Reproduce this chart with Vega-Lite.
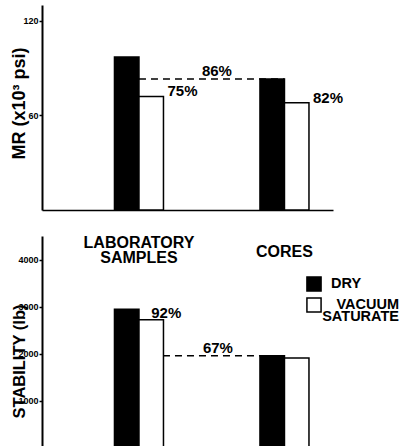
{
  "$schema": "https://vega.github.io/schema/vega-lite/v6.json",
  "padding": {"left": 10, "top": 5, "right": 0, "bottom": 0},
  "spacing": 23,
  "background": "white",
  "config": {
    "view": {"stroke": null},
    "font": "Liberation Sans",
    "axis": {
      "grid": false,
      "domainColor": "black",
      "tickColor": "black",
      "labelColor": "black",
      "titleColor": "black",
      "labelFont": "Liberation Sans",
      "titleFont": "Liberation Sans"
    }
  },
  "resolve": {
    "scale": {"x": "independent", "y": "independent", "xOffset": "independent", "fill": "independent"},
    "legend": {"fill": "independent"}
  },
  "vconcat": [
    {
      "width": 291,
      "height": 205,
      "layer": [
        {
          "data": {"values": [{"from": "LABORATORY SAMPLES", "to": "CORES", "value": 83}]},
          "mark": {"type": "rule", "strokeDash": [7, 5], "strokeWidth": 1.5, "color": "black"},
          "encoding": {
            "x": {"field": "from", "type": "nominal", "scale": {"domain": ["LABORATORY SAMPLES", "CORES"], "paddingInner": 0.6632, "paddingOuter": 0.3316, "align": 0.751}, "axis": {"title": null, "labels": false, "ticks": false, "domain": true, "domainWidth": 1.5}},
            "x2": {"field": "to"},
            "y": {"field": "value", "type": "quantitative"}
          }
        },
        {
          "data": {"values": [
            {"group": "LABORATORY SAMPLES", "cond": "DRY", "value": 97},
            {"group": "LABORATORY SAMPLES", "cond": "VACUUM SATURATE", "value": 72},
            {"group": "CORES", "cond": "DRY", "value": 83},
            {"group": "CORES", "cond": "VACUUM SATURATE", "value": 68}
          ]},
          "mark": {"type": "bar", "stroke": "black", "strokeWidth": 1.5},
          "encoding": {
            "x": {"field": "group", "type": "nominal", "scale": {"domain": ["LABORATORY SAMPLES", "CORES"], "paddingInner": 0.6632, "paddingOuter": 0.3316, "align": 0.751}},
            "xOffset": {"field": "cond", "type": "nominal", "scale": {"domain": ["DRY", "VACUUM SATURATE"], "paddingInner": 0, "paddingOuter": 0}},
            "y": {"field": "value", "type": "quantitative", "scale": {"domain": [0, 130], "nice": false},
              "axis": {"values": [60, 120], "title": "MR (x10³ psi)", "titleFontSize": 18, "titleFontWeight": "bold", "titleX": -18, "titleY": 98, "titleBaseline": "alphabetic", "labelFontSize": 9, "labelFontWeight": "bold", "labelPadding": 1, "tickSize": 3, "tickWidth": 1.5, "domainWidth": 2}},
            "fill": {"field": "cond", "type": "nominal", "scale": {"domain": ["DRY", "VACUUM SATURATE"], "range": ["#000000", "#ffffff"]}, "legend": null}
          }
        },
        {
          "data": {"values": [
            {"group": "LABORATORY SAMPLES", "value": 72, "label": "75%"},
            {"group": "CORES", "value": 68, "label": "82%"}
          ]},
          "mark": {"type": "text", "align": "left", "baseline": "alphabetic", "dx": 4, "fontSize": 15, "fontWeight": "bold"},
          "encoding": {
            "x": {"field": "group", "type": "nominal", "bandPosition": 1},
            "y": {"field": "value", "type": "quantitative"},
            "text": {"field": "label"}
          }
        },
        {
          "data": {"values": [{"group": "CORES", "value": 83, "label": "86%"}]},
          "mark": {"type": "text", "align": "right", "baseline": "alphabetic", "dx": -28, "dy": -3, "fontSize": 15, "fontWeight": "bold"},
          "encoding": {
            "x": {"field": "group", "type": "nominal", "bandPosition": 0},
            "y": {"field": "value", "type": "quantitative"},
            "text": {"field": "label"}
          }
        }
      ]
    },
    {
      "width": 291,
      "height": 212,
      "layer": [
        {
          "data": {"values": [{"from": "LABORATORY SAMPLES", "to": "CORES", "value": 1960}]},
          "mark": {"type": "rule", "strokeDash": [7, 5], "strokeWidth": 1.5, "color": "black"},
          "encoding": {
            "x": {"field": "from", "type": "nominal", "scale": {"domain": ["LABORATORY SAMPLES", "CORES"], "paddingInner": 0.6632, "paddingOuter": 0.3316, "align": 0.751}, "axis": {"title": null, "labels": false, "ticks": false, "domain": true, "domainWidth": 1.5}},
            "x2": {"field": "to"},
            "y": {"field": "value", "type": "quantitative"}
          }
        },
        {
          "data": {"values": [
            {"group": "LABORATORY SAMPLES", "cond": "DRY", "value": 2947},
            {"group": "LABORATORY SAMPLES", "cond": "VACUUM SATURATE", "value": 2720},
            {"group": "CORES", "cond": "DRY", "value": 1960},
            {"group": "CORES", "cond": "VACUUM SATURATE", "value": 1910}
          ]},
          "mark": {"type": "bar", "stroke": "black", "strokeWidth": 1.5},
          "encoding": {
            "x": {"field": "group", "type": "nominal", "scale": {"domain": ["LABORATORY SAMPLES", "CORES"], "paddingInner": 0.6632, "paddingOuter": 0.3316, "align": 0.751}},
            "xOffset": {"field": "cond", "type": "nominal", "scale": {"domain": ["DRY", "VACUUM SATURATE"], "paddingInner": 0, "paddingOuter": 0}},
            "y": {"field": "value", "type": "quantitative", "scale": {"domain": [0, 4500], "nice": false},
              "axis": {"values": [1000, 2000, 3000, 4000], "format": "d", "title": "STABILITY (lb)", "titleFontSize": 16.5, "titleFontWeight": "bold", "titleX": -18, "titleY": 125, "titleBaseline": "alphabetic", "labelFontSize": 9, "labelFontWeight": "bold", "labelPadding": 1, "tickSize": 3, "tickWidth": 1.5, "domainWidth": 2}},
            "fill": {"field": "cond", "type": "nominal", "scale": {"domain": ["DRY", "VACUUM SATURATE"], "range": ["#000000", "#ffffff"]},
              "legend": {"orient": "none", "legendX": 264, "legendY": 40, "title": null, "padding": 0, "symbolType": "square", "symbolSize": 200, "symbolStrokeColor": "black", "symbolStrokeWidth": 1.5, "labelFont": "Liberation Sans", "labelFontSize": 14.5, "labelFontWeight": "bold", "labelColor": "black", "labelOffset": 0, "labelLimit": 0, "labelBaseline": "middle", "rowPadding": -1,
                "labelExpr": "datum.value == 'DRY' ? 'DRY' : ['VACUUM', 'SATURATE']",
                "encode": {"labels": {"update": {
                  "lineHeight": {"value": 12},
                  "align": {"signal": "datum.value == 'DRY' ? 'left' : 'right'"},
                  "dx": {"signal": "datum.value == 'DRY' ? 9 : 77"}
                }}}}}
          }
        },
        {
          "data": {"values": [{"group": "LABORATORY SAMPLES", "value": 2720, "label": "92%"}]},
          "mark": {"type": "text", "align": "left", "baseline": "alphabetic", "dy": -2, "fontSize": 15, "fontWeight": "bold"},
          "encoding": {
            "x": {"field": "group", "type": "nominal", "bandPosition": 0.75},
            "y": {"field": "value", "type": "quantitative"},
            "text": {"field": "label"}
          }
        },
        {
          "data": {"values": [{"group": "CORES", "value": 1960, "label": "67%"}]},
          "mark": {"type": "text", "align": "right", "baseline": "alphabetic", "dx": -27, "dy": -3, "fontSize": 15, "fontWeight": "bold"},
          "encoding": {
            "x": {"field": "group", "type": "nominal", "bandPosition": 0},
            "y": {"field": "value", "type": "quantitative"},
            "text": {"field": "label"}
          }
        },
        {
          "data": {"values": [{"group": "LABORATORY SAMPLES"}]},
          "mark": {"type": "text", "baseline": "middle", "align": "center", "fontSize": 16, "fontWeight": "bold", "lineBreak": " ", "lineHeight": 15.5},
          "encoding": {
            "x": {"field": "group", "type": "nominal"},
            "y": {"datum": 4352},
            "text": {"field": "group"}
          }
        },
        {
          "data": {"values": [{"group": "CORES"}]},
          "mark": {"type": "text", "baseline": "middle", "align": "center", "fontSize": 16, "fontWeight": "bold"},
          "encoding": {
            "x": {"field": "group", "type": "nominal"},
            "y": {"datum": 4150},
            "text": {"field": "group"}
          }
        }
      ]
    }
  ]
}
